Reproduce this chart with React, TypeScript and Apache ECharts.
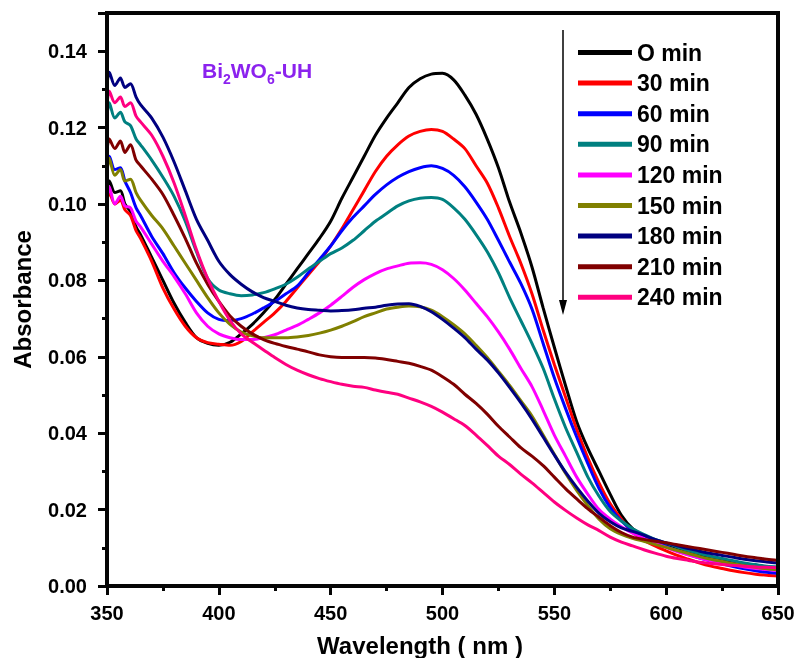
import React, { useEffect, useRef } from "react";
import * as echarts from "echarts";

const wavelengths = [350, 351, 353.5, 356, 358, 360.5, 363, 365, 370, 375, 380, 385, 390, 395, 400, 405, 410, 415, 420, 425, 430, 435, 440, 445, 450, 455, 460, 465, 470, 475, 480, 485, 490, 495, 500, 505, 510, 515, 520, 525, 530, 535, 540, 545, 550, 555, 560, 565, 570, 575, 580, 585, 590, 595, 600, 605, 610, 615, 620, 625, 630, 635, 640, 645, 650];

const seriesNames = ["O min", "30 min", "60 min", "90 min", "120 min", "150 min", "180 min", "210 min", "240 min"];
const seriesColors = ["#000000", "#FF0000", "#0000FF", "#008080", "#FF00FF", "#808000", "#000080", "#800000", "#FF0080"];

const min0 = [0.104, 0.106, 0.103, 0.1035, 0.100, 0.098, 0.094, 0.092, 0.086, 0.080, 0.074, 0.069, 0.065, 0.0635, 0.063, 0.0638, 0.066, 0.0685, 0.0715, 0.075, 0.079, 0.083, 0.087, 0.091, 0.0955, 0.1015, 0.107, 0.1125, 0.118, 0.1225, 0.1265, 0.1305, 0.1328, 0.134, 0.1342, 0.1325, 0.1285, 0.1235, 0.117, 0.1095, 0.1005, 0.0925, 0.0835, 0.0728, 0.0625, 0.0525, 0.043, 0.036, 0.030, 0.024, 0.0185, 0.015, 0.0132, 0.012, 0.011, 0.010, 0.009, 0.0082, 0.0075, 0.007, 0.0063, 0.0057, 0.0052, 0.0048, 0.0045];
const min30 = [0.101, 0.103, 0.100, 0.101, 0.0985, 0.097, 0.093, 0.091, 0.085, 0.078, 0.0725, 0.068, 0.065, 0.0637, 0.0633, 0.063, 0.064, 0.0665, 0.069, 0.0715, 0.0745, 0.078, 0.0815, 0.085, 0.089, 0.0935, 0.0985, 0.1035, 0.1085, 0.1125, 0.1155, 0.1178, 0.119, 0.1195, 0.119, 0.117, 0.1145, 0.110, 0.1055, 0.099, 0.0915, 0.0845, 0.0765, 0.067, 0.058, 0.0495, 0.041, 0.0335, 0.027, 0.0215, 0.0175, 0.014, 0.012, 0.0105, 0.0092, 0.008, 0.007, 0.006, 0.0052, 0.0046, 0.004, 0.0035, 0.0031, 0.0028, 0.0026];
const min60 = [0.110, 0.1125, 0.109, 0.1095, 0.106, 0.103, 0.099, 0.097, 0.0915, 0.087, 0.082, 0.078, 0.0745, 0.0715, 0.0698, 0.0695, 0.070, 0.0712, 0.0728, 0.0745, 0.0765, 0.0785, 0.082, 0.0855, 0.089, 0.093, 0.0965, 0.0995, 0.1025, 0.105, 0.107, 0.1085, 0.1095, 0.110, 0.1093, 0.1075, 0.1045, 0.1005, 0.096, 0.0905, 0.0848, 0.0792, 0.0725, 0.0635, 0.0545, 0.0465, 0.039, 0.032, 0.0255, 0.0205, 0.017, 0.0145, 0.0128, 0.0115, 0.0103, 0.0092, 0.0082, 0.0073, 0.0065, 0.0058, 0.0051, 0.0045, 0.004, 0.0036, 0.0033];
const min90 = [0.123, 0.1265, 0.1225, 0.124, 0.1215, 0.1205, 0.117, 0.1155, 0.1115, 0.107, 0.102, 0.0955, 0.0875, 0.0805, 0.0775, 0.0765, 0.076, 0.0762, 0.0768, 0.0778, 0.079, 0.0808, 0.083, 0.085, 0.087, 0.0885, 0.0905, 0.093, 0.0955, 0.0975, 0.0995, 0.1008, 0.1015, 0.1017, 0.1012, 0.099, 0.096, 0.092, 0.0875, 0.082, 0.0755, 0.0695, 0.0635, 0.057, 0.049, 0.0415, 0.035, 0.0285, 0.0235, 0.0195, 0.017, 0.015, 0.0135, 0.0122, 0.0112, 0.0102, 0.0093, 0.0085, 0.0078, 0.0072, 0.0066, 0.006, 0.0056, 0.0052, 0.005];
const min120 = [0.101, 0.1045, 0.100, 0.102, 0.0995, 0.099, 0.0955, 0.094, 0.0895, 0.085, 0.081, 0.0765, 0.0715, 0.068, 0.066, 0.065, 0.0645, 0.0645, 0.065, 0.0658, 0.067, 0.0682, 0.0698, 0.0715, 0.0735, 0.0758, 0.0782, 0.0802, 0.0818, 0.083, 0.0838, 0.0845, 0.0846, 0.0842, 0.0828, 0.0805, 0.0775, 0.074, 0.0705, 0.0665, 0.062, 0.057, 0.0522, 0.046, 0.0395, 0.034, 0.0285, 0.024, 0.020, 0.0175, 0.0155, 0.0138, 0.0125, 0.0112, 0.0101, 0.009, 0.0081, 0.0073, 0.0066, 0.006, 0.0055, 0.005, 0.0046, 0.0043, 0.004];
const min150 = [0.108, 0.112, 0.1075, 0.109, 0.106, 0.1065, 0.103, 0.101, 0.097, 0.0935, 0.089, 0.0845, 0.080, 0.0755, 0.0715, 0.0685, 0.0665, 0.0655, 0.065, 0.065, 0.065, 0.0652, 0.0656, 0.0662, 0.067, 0.068, 0.0692, 0.0705, 0.0715, 0.0725, 0.073, 0.0733, 0.0731, 0.0722, 0.0705, 0.0684, 0.066, 0.063, 0.0598, 0.0562, 0.0525, 0.0485, 0.0445, 0.0395, 0.0345, 0.0295, 0.025, 0.021, 0.0175, 0.015, 0.0135, 0.0125, 0.0117, 0.0109, 0.0101, 0.0093, 0.0085, 0.0077, 0.007, 0.0064, 0.0058, 0.0053, 0.0049, 0.0045, 0.0042];
const min180 = [0.131, 0.1345, 0.131, 0.133, 0.1305, 0.1315, 0.128, 0.126, 0.1225, 0.1175, 0.111, 0.1035, 0.096, 0.0905, 0.085, 0.0815, 0.079, 0.077, 0.0755, 0.0745, 0.0735, 0.0728, 0.0724, 0.0722, 0.072, 0.0721, 0.0723, 0.0727, 0.073, 0.0735, 0.0738, 0.0739, 0.0732, 0.0718, 0.0698, 0.0675, 0.065, 0.062, 0.0592, 0.0558, 0.052, 0.048, 0.0437, 0.039, 0.0343, 0.0298, 0.0258, 0.0222, 0.019, 0.0168, 0.0152, 0.0143, 0.0133, 0.0122, 0.0113, 0.0105, 0.0098, 0.0091, 0.0085, 0.008, 0.0075, 0.007, 0.0066, 0.0063, 0.006];
const min210 = [0.114, 0.117, 0.1145, 0.1165, 0.1135, 0.1155, 0.1115, 0.110, 0.1065, 0.1025, 0.097, 0.091, 0.0845, 0.079, 0.0745, 0.0707, 0.068, 0.066, 0.0645, 0.0635, 0.0627, 0.062, 0.0613, 0.0605, 0.060, 0.0598, 0.0598, 0.0598, 0.0597, 0.0593, 0.0588, 0.0583, 0.0575, 0.0565, 0.0548, 0.0528, 0.0502, 0.0478, 0.045, 0.0418, 0.039, 0.0362, 0.034, 0.0315, 0.0285, 0.0255, 0.0228, 0.0202, 0.018, 0.0158, 0.014, 0.0128, 0.0122, 0.0117, 0.0113, 0.0108, 0.0103, 0.0098, 0.0093, 0.0088, 0.0083, 0.0078, 0.0074, 0.007, 0.0067];
const min240 = [0.126, 0.1295, 0.1265, 0.128, 0.1255, 0.1265, 0.123, 0.1215, 0.118, 0.1125, 0.1055, 0.097, 0.088, 0.0805, 0.0745, 0.0695, 0.066, 0.0638, 0.0618, 0.0598, 0.058, 0.0565, 0.0553, 0.0543, 0.0535, 0.0528, 0.0523, 0.052, 0.0513, 0.0507, 0.0502, 0.0492, 0.0482, 0.047, 0.0455, 0.0438, 0.042, 0.0395, 0.0368, 0.034, 0.0318, 0.0293, 0.027, 0.0245, 0.022, 0.0198, 0.0178, 0.016, 0.0145, 0.0128, 0.0115, 0.0105, 0.0095, 0.0086, 0.0078, 0.0072, 0.0067, 0.0062, 0.0059, 0.0056, 0.0054, 0.0052, 0.005, 0.0049, 0.0048];

const seriesValues = [min0, min30, min60, min90, min120, min150, min180, min210, min240];

const xTicks = { min: 350, max: 650, interval: 50 };
const yTicks = { min: 0, max: 0.15, interval: 0.02 };

const FONT = "Arial, 'Liberation Sans', sans-serif";
const INK = "#050505";

export default function App() {
  const ref = useRef<HTMLDivElement>(null);
  useEffect(() => {
    if (!ref.current) return;
    const chart = echarts.init(ref.current, null, { renderer: "svg" });
    const series = seriesNames.map((name, i) => ({
      name,
      type: "line",
      showSymbol: false,
      smooth: 0.3,
      data: wavelengths.map((w, j) => [w, seriesValues[i][j]]),
      lineStyle: { width: 3, color: seriesColors[i] },
      itemStyle: { color: seriesColors[i] },
    }));
    chart.setOption({
      animation: false,
      grid: {
        left: 107, right: 18, top: 13, bottom: 72,
        containLabel: false, outerBoundsMode: "none",
        show: true, borderColor: INK, borderWidth: 4,
      },
      legend: {
        orient: "vertical",
        left: 578,
        top: 41,
        padding: 0,
        icon: "rect",
        itemWidth: 54,
        itemHeight: 5,
        itemGap: 7.6,
        itemTextGap: 10,
        data: seriesNames,
        textStyle: { fontFamily: FONT, fontWeight: "bold", fontSize: 23, lineHeight: 23, color: "#000" },
      },
      xAxis: [
        {
          type: "value",
          min: xTicks.min,
          max: xTicks.max,
          interval: xTicks.interval,
          name: "Wavelength ( nm )",
          nameLocation: "middle",
          nameGap: 47,
          nameTextStyle: { fontFamily: FONT, fontWeight: "bold", fontSize: 24, color: "#000", padding: [0, 45, 0, 0] },
          axisLine: { show: true, lineStyle: { color: INK, width: 4 } },
          axisTick: { show: true, length: 9, lineStyle: { color: INK, width: 3 } },
          minorTick: { show: true, splitNumber: 2, length: 5, lineStyle: { color: INK, width: 3 } },
          splitLine: { show: false },
          axisLabel: { fontFamily: FONT, fontWeight: "bold", fontSize: 20, color: "#000", margin: 17 },
        },
      ],
      yAxis: [
        {
          type: "value",
          min: yTicks.min,
          max: yTicks.max,
          interval: yTicks.interval,
          name: "Absorbance",
          nameLocation: "middle",
          nameGap: 73,
          nameTextStyle: { fontFamily: FONT, fontWeight: "bold", fontSize: 24, color: "#000" },
          axisLine: { show: true, lineStyle: { color: INK, width: 4 } },
          axisTick: { show: true, length: 9, lineStyle: { color: INK, width: 3 } },
          minorTick: { show: true, splitNumber: 2, length: 5, lineStyle: { color: INK, width: 3 } },
          splitLine: { show: false },
          axisLabel: {
            fontFamily: FONT,
            fontWeight: "bold",
            fontSize: 20,
            color: "#000",
            margin: 20,
            formatter: (v: number) => (v <= 0.1401 ? v.toFixed(2) : ""),
          },
        },
      ],
      graphic: [
        {
          type: "rect",
          shape: { x: 107, y: 13, width: 671, height: 573 },
          style: { fill: "none", stroke: INK, lineWidth: 4 },
          z: 50,
        },
        {
          type: "text",
          left: 202,
          top: 60,
          style: {
            text: "{n|Bi}{s|2}{n|WO}{s|6}{n|-UH}",
            rich: {
              n: { fontFamily: FONT, fontWeight: "bold", fontSize: 21, fill: "#8B22EE", lineHeight: 24, verticalAlign: "top" },
              s: { fontFamily: FONT, fontWeight: "bold", fontSize: 14, fill: "#8B22EE", lineHeight: 24, verticalAlign: "top", padding: [12, 0, 0, 0] },
            },
          },
        },
        {
          type: "line",
          shape: { x1: 563, y1: 30, x2: 563, y2: 303 },
          style: { stroke: "#000", lineWidth: 1.5 },
        },
        {
          type: "polygon",
          shape: { points: [[559, 300], [567, 300], [563, 315]] },
          style: { fill: "#000" },
        },
      ],
      series,
    });
    return () => chart.dispose();
  }, []);
  return <div ref={ref} style={{ position: "fixed", left: 0, top: 0, width: 796, height: 658 }} />;
}
